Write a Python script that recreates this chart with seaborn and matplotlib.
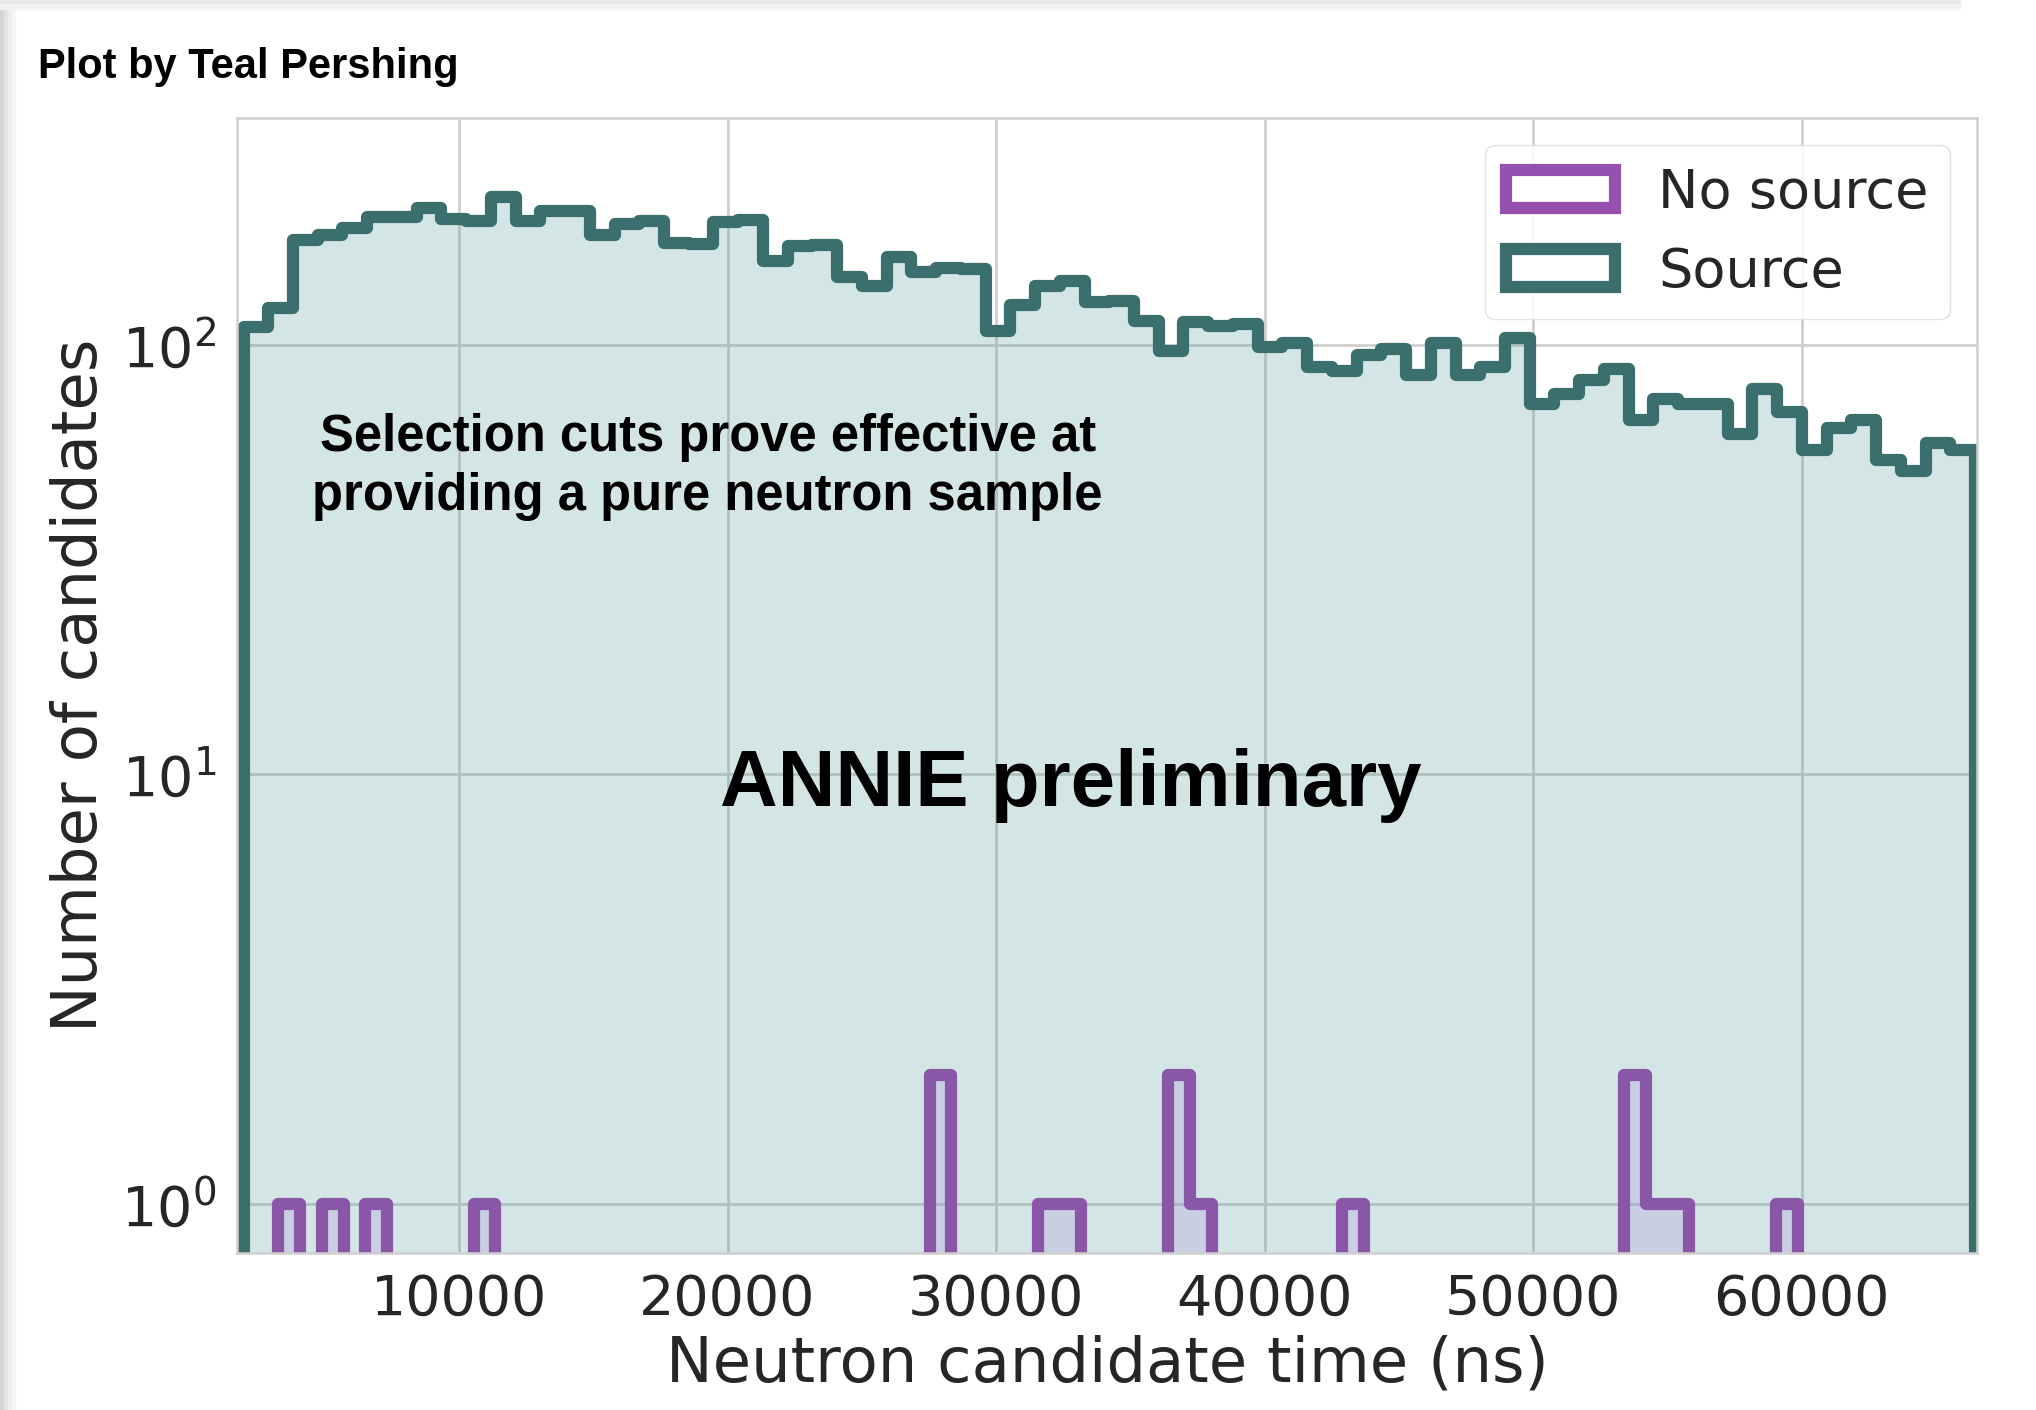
import numpy as np
import pandas as pd
import matplotlib
matplotlib.use("Agg")
import matplotlib.pyplot as plt
from matplotlib.patches import Patch, Rectangle
import seaborn as sns

# ---------------- data ----------------
n_bins = 70
source_range = (1976, 66455)          # ns, first / last bin edge
source_counts = [110, 122, 176, 180, 187, 199, 199, 209, 197, 195,
                 221, 195, 205, 205, 180, 191, 195, 173, 172, 193,
                 196, 157, 170, 171, 144, 137, 160, 148, 151, 150,
                 108, 124, 137, 141, 126, 127, 114, 97, 113, 111,
                 112, 99, 101, 89, 87, 95, 98, 85, 101, 85,
                 89, 104, 73, 77, 83, 88, 67, 75, 73, 73,
                 62, 79, 70, 57, 64, 67, 54, 51, 59, 57]

nosource_range = (3275, 59855)
nosource_counts = [1, 0, 1, 0, 1, 0, 0, 0, 0, 1,
                   0, 0, 0, 0, 0, 0, 0, 0, 0, 0,
                   0, 0, 0, 0, 0, 0, 0, 0, 0, 0,
                   2, 0, 0, 0, 0, 1, 1, 0, 0, 0,
                   0, 2, 1, 0, 0, 0, 0, 0, 0, 1,
                   0, 0, 0, 0, 0, 0, 0, 0, 0, 0,
                   0, 0, 2, 1, 1, 0, 0, 0, 0, 1]

x_ticks = [10000, 20000, 30000, 40000, 50000, 60000]
labels = ["No source", "Source"]
x_label = "Neutron candidate time (ns)"
y_label = "Number of candidates"

# ---------------- style ----------------
sns.set_theme(style="whitegrid")
plt.rcParams["font.family"] = ["DejaVu Sans"]

TEAL = "#3b6f6e"
TEAL_FACE = (60 / 255, 141 / 255, 141 / 255, 0.22)
PURPLE = "#8a56a8"
PURPLE_LEG = "#9650b0"
PURPLE_FACE = (172 / 255, 142 / 255, 218 / 255, 0.25)
LW = 8.8

W, H = 2036, 1410
fig = plt.figure(figsize=(W / 100, H / 100), dpi=100)

# window shadow like the screenshot
for x0, x1, c in [(0, 4, "#d6d6d6"), (4, 8, "#e2e2e2"), (8, 12, "#eeeeee"), (12, 15, "#f7f7f7")]:
    fig.patches.append(Rectangle((x0 / W, 0), (x1 - x0) / W, 1, transform=fig.transFigure,
                                 color=c, zorder=-5))
for y0, y1, c in [(0, 4, "#e8e8e8"), (4, 9, "#f2f2f2")]:
    fig.patches.append(Rectangle((0, 1 - y1 / H), 1960 / W, (y1 - y0) / H, transform=fig.transFigure,
                                 color=c, zorder=-5))

ax_l, ax_r, ax_t, ax_b = 237, 1977, 118, 1253
ax = fig.add_axes([ax_l / W, 1 - ax_b / H, (ax_r - ax_l) / W, (ax_b - ax_t) / H])

src_edges = np.linspace(source_range[0], source_range[1], n_bins + 1)
src_df = pd.DataFrame({"t": 0.5 * (src_edges[:-1] + src_edges[1:]), "n": source_counts})
ns_edges = np.linspace(nosource_range[0], nosource_range[1], n_bins + 1)
ns_df = pd.DataFrame({"t": 0.5 * (ns_edges[:-1] + ns_edges[1:]), "n": nosource_counts})

sns.histplot(data=src_df, x="t", weights="n", bins=n_bins, binrange=source_range,
             element="step", fill=True,
             facecolor=TEAL_FACE, edgecolor=TEAL, linewidth=LW, ax=ax)
sns.histplot(data=ns_df, x="t", weights="n", bins=n_bins, binrange=nosource_range,
             element="step", fill=True,
             facecolor=PURPLE_FACE, edgecolor=PURPLE, linewidth=LW, ax=ax)

ax.set_yscale("log")
ax.set_xlim(1733, 66530)
ax.set_ylim(0.768, 338)
ax.set_xticks(x_ticks)
ax.set_xticklabels([str(t) for t in x_ticks])
ax.minorticks_off()

ax.grid(True, which="major", color="#cfcfcf", linewidth=2)
for s in ax.spines.values():
    s.set_color("#d0d0d0")
    s.set_linewidth(1.8)

ax.tick_params(axis="x", labelsize=40, length=0, pad=14, colors="#262626")
ax.tick_params(axis="y", labelsize=40, length=0, pad=15, colors="#262626")
ax.set_xlabel(x_label, fontsize=45, color="#262626", labelpad=6)
ax.set_ylabel(y_label, fontsize=45, color="#262626", labelpad=8)

handles = [Patch(facecolor="white", edgecolor=PURPLE_LEG, linewidth=LW, label=labels[0]),
           Patch(facecolor="white", edgecolor=TEAL, linewidth=LW, label=labels[1])]
leg = ax.legend(handles=handles, loc="upper right", fontsize=39, frameon=True, fancybox=True,
                framealpha=0.85, edgecolor="#dddddd")
for t in leg.get_texts():
    t.set_color("#262626")

bold = dict(family="Liberation Sans", fontweight="bold", color="black")
fig.text(37.7 / W, 1 - 78 / H, "Plot by Teal Pershing", fontsize=30, ha="left", va="baseline", **bold)
fig.text(707.7 / W, 1 - 450.6 / H, "Selection cuts prove effective at", fontsize=36.5,
         ha="center", va="baseline", **bold)
fig.text(707.7 / W, 1 - 510.3 / H, "providing a pure neutron sample", fontsize=36.5,
         ha="center", va="baseline", **bold)
fig.text(1071 / W, 1 - 806.4 / H, "ANNIE preliminary", fontsize=57.5, ha="center", va="baseline", **bold)

fig.savefig("out.png", dpi=100)
